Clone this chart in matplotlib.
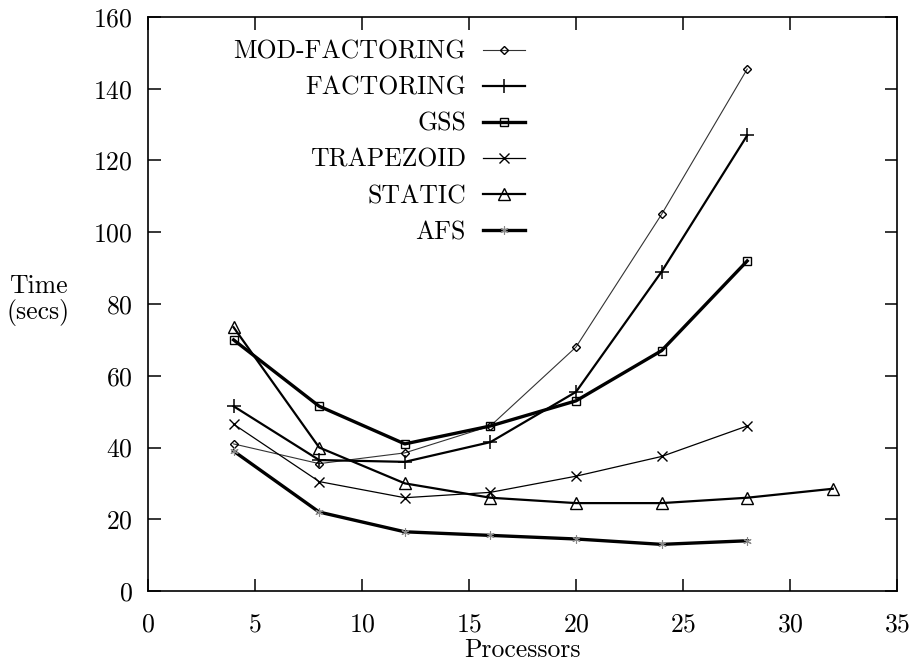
import matplotlib
matplotlib.use("Agg")
import matplotlib.pyplot as plt

plt.rcParams['font.family'] = ['cmr10', 'DejaVu Serif']
plt.rcParams['mathtext.fontset'] = 'cm'
plt.rcParams['axes.unicode_minus'] = False
plt.rcParams['axes.formatter.use_mathtext'] = True

processors = [4, 8, 12, 16, 20, 24, 28]
processors_static = [4, 8, 12, 16, 20, 24, 28, 32]

mod_factoring = [41, 35.5, 38.5, 46, 68, 105, 145.5]
factoring = [51.5, 36.5, 36, 41.5, 55.5, 89, 127]
gss = [70, 51.5, 41, 46, 53, 67, 92]
trapezoid = [46.5, 30.5, 26, 27.5, 32, 37.5, 46]
static = [73.5, 40, 30, 26, 24.5, 24.5, 26, 28.5]
afs = [39, 22, 16.5, 15.5, 14.5, 13, 14]

series_names = ["MOD-FACTORING", "FACTORING", "GSS", "TRAPEZOID", "STATIC", "AFS"]

x_ticks = [0, 5, 10, 15, 20, 25, 30, 35]
y_ticks = [0, 20, 40, 60, 80, 100, 120, 140, 160]

FS = 18.5
W, H = 913, 663
fig = plt.figure(figsize=(W / 100, H / 100), dpi=100)
ax = fig.add_axes([148 / W, 1 - 591 / H, (897 - 148) / W, (591 - 17) / H])

styles = [
    dict(lw=0.8, marker='D', ms=4.5, color='#333333'),
    dict(lw=1.6, marker='+', ms=10, mew=1.1, color='black'),
    dict(lw=2.4, marker='s', ms=6, mew=1.0, color='black'),
    dict(lw=0.9, marker='x', ms=7, mew=1.0, color='black'),
    dict(lw=1.6, marker='^', ms=9, mew=1.0, color='black'),
    dict(lw=2.4, marker=(6, 2, 0), ms=6, mew=0.8, color='black'),
]
data = [
    (processors, mod_factoring),
    (processors, factoring),
    (processors, gss),
    (processors, trapezoid),
    (processors_static, static),
    (processors, afs),
]

for (xs, ys), name, st in zip(data, series_names, styles):
    kw = dict(st)
    kw['mfc'] = 'none'
    kw['mec'] = '#888888' if name == "AFS" else 'black'
    ax.plot(xs, ys, label=name, **kw)

ax.set_xlim(0, 35)
ax.set_ylim(0, 160)
ax.set_xticks(x_ticks)
ax.set_yticks(y_ticks)
ax.tick_params(direction='in', length=9, width=1.1, labelsize=FS,
               top=True, right=True)
ax.tick_params(axis='y', pad=11)
ax.tick_params(axis='x', pad=16)
for s in ax.spines.values():
    s.set_linewidth(1.2)

ax.set_xlabel("Processors", fontsize=FS)
ax.xaxis.set_label_coords((522 - 148) / 749, (591 - 650) / 574)
ax.xaxis.label.set_va('center')
ax.set_ylabel("Time\n(secs)", fontsize=FS, rotation=0, ha='center', va='center',
              linespacing=1.05)
ax.yaxis.set_label_coords((38 - 148) / 749, (591 - 300) / 574)

leg = ax.legend(loc='upper right', bbox_to_anchor=((525 - 148) / 749, (591 - 40) / 574),
                frameon=False, markerfirst=False, fontsize=FS, borderpad=0,
                borderaxespad=0, handlelength=1.65, handletextpad=0.65,
                labelspacing=0.48)

fig.savefig("out.png", dpi=100)
